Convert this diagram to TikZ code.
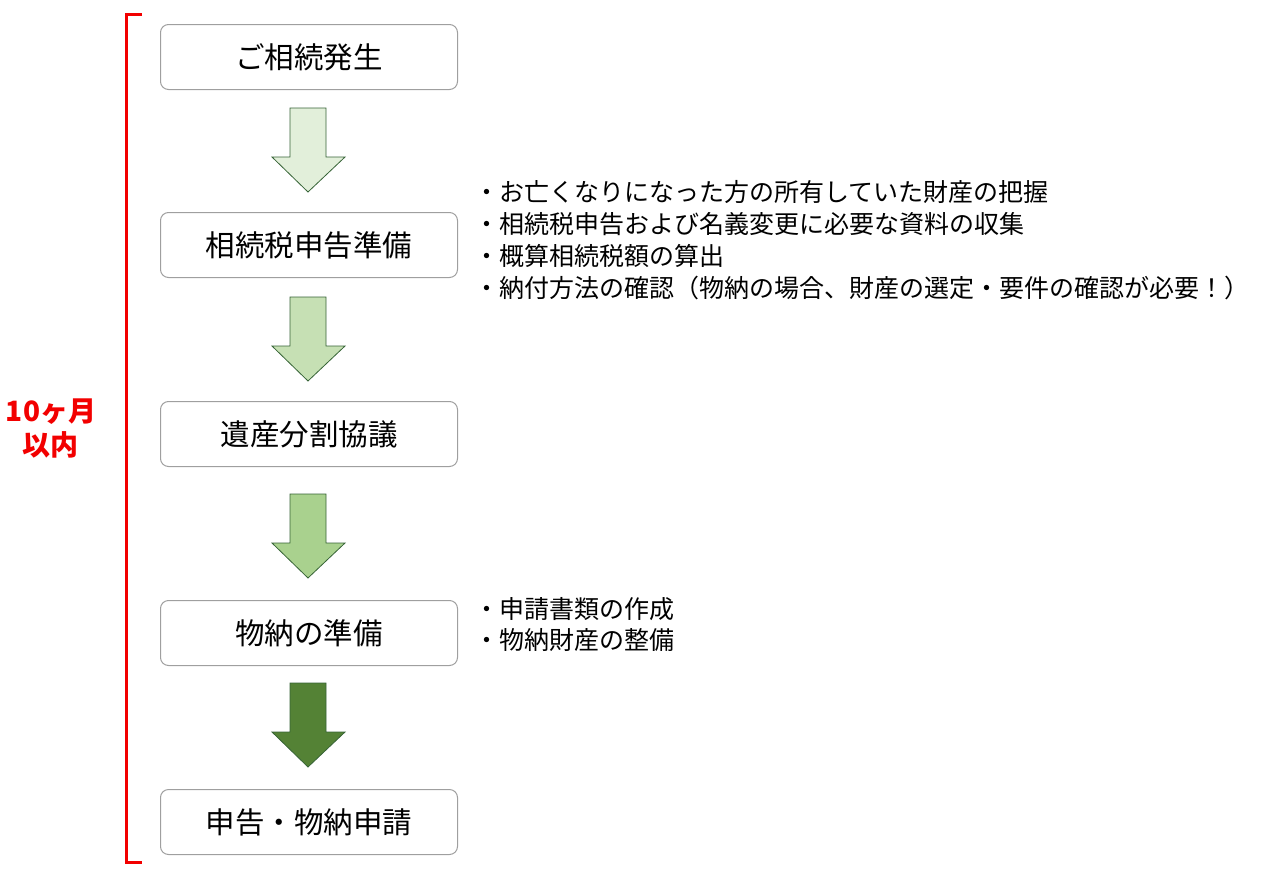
\documentclass[tikz,border=0pt]{standalone}
\usepackage{fontspec}
\setmainfont{Noto Sans CJK JP}
\begin{document}
\begin{tikzpicture}[x=1pt,y=-1pt,
  box/.style={draw=gray!75,line width=1pt,rounded corners=8pt,minimum width=297pt,minimum height=65pt,font=\fontsize{29.5}{34}\selectfont,anchor=north west,inner sep=0pt},
  lst/.style={anchor=west,font=\fontsize{25}{30}\selectfont,inner sep=0pt},
  barrow/.style={draw=gray!70!green!60!black,line width=0.8pt}]
\useasboundingbox (0,0) rectangle (1280,870);
\node[box] (b1) at (160,24) {ご相続発生};
\node[box] (b2) at (160,212) {相続税申告準備};
\node[box] (b3) at (160,401) {遺産分割協議};
\node[box] (b4) at (160,600) {物納の準備};
\node[box] (b5) at (160,789) {申告・物納申請};
\foreach \t/\c in {108/E2EFDA,297/C6E0B4,494/A9D18E,683/548235}{
  \definecolor{ac}{HTML}{\c}
  \draw[barrow,fill=ac] (290,\t) -- (326,\t) -- (326,\t+49) -- (345,\t+49) -- (308,\t+84) -- (272,\t+49) -- (290,\t+49) -- cycle;
}
\draw[red!95!black,line width=3pt] (142,14) -- (126,14) -- (126,862) -- (142,862);
\node[text=red!95!black,font=\bfseries\fontsize{28}{34}\selectfont,align=center] (lab) at (51,428) {10ヶ月\\以内};
\node[lst] (t1) at (474,192) {・お亡くなりになった方の所有していた財産の把握};
\node[lst] (t2) at (474,224) {・相続税申告および名義変更に必要な資料の収集};
\node[lst] (t3) at (474,256) {・概算相続税額の算出};
\node[lst] (t4) at (474,288) {・納付方法の確認（物納の場合、財産の選定・要件の確認が必要！）};
\node[lst] (t5) at (474,609) {・申請書類の作成};
\node[lst] (t6) at (474,640) {・物納財産の整備};
\end{tikzpicture}
\end{document}
